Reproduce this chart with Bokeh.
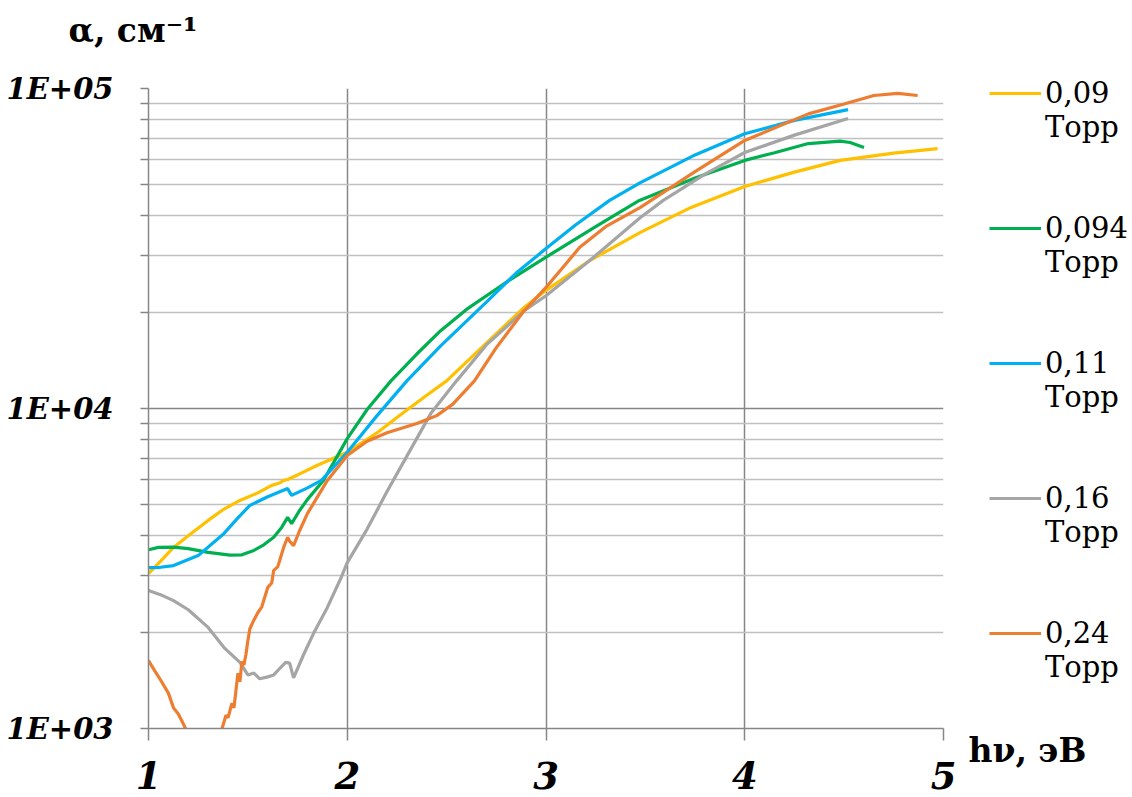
from bokeh.plotting import figure
from bokeh.models import FixedTicker, Legend, LegendItem, Label
from bokeh.embed import file_html
from bokeh.resources import INLINE

# ---------------- data ----------------
series_names = ["\n0,09\nТорр", "\n0,094\nТорр", "\n0,11\nТорр", "\n0,16\nТорр", "\n0,24\nТорр"]
series_colors = ["#FFC000", "#00B050", "#00B0F0", "#A5A5A5", "#ED7D31"]

x_009 = [1.0, 1.06, 1.126, 1.2, 1.3, 1.38, 1.46, 1.55, 1.62, 1.66, 1.68, 1.7, 1.75, 1.85, 2.0,
         2.15, 2.27, 2.4, 2.5, 2.7, 2.89, 3.0, 3.22, 3.475, 3.73, 4.0, 4.25, 4.48, 4.75, 4.97]
y_009 = [3050, 3330, 3680, 4000, 4470, 4850, 5160, 5450, 5750, 5850, 5960, 6000, 6200, 6650, 7300,
         8400, 9580, 11000, 12200, 16000, 20700, 23400, 29000, 35500, 42500, 49400, 54800, 59600, 62800, 64900]

x_0094 = [1.0, 1.05, 1.126, 1.2, 1.3, 1.41, 1.47, 1.53, 1.58, 1.63, 1.67, 1.7, 1.72, 1.76, 1.8, 1.88,
          2.0, 2.1, 2.22, 2.35, 2.47, 2.6, 2.8, 3.0, 3.25, 3.47, 3.75, 4.0, 4.15, 4.32, 4.48, 4.53, 4.6]
y_0094 = [3620, 3680, 3690, 3650, 3550, 3480, 3490, 3600, 3750, 3960, 4250, 4570, 4370, 4800, 5200, 5960,
          8050, 9930, 12200, 14800, 17500, 20400, 24800, 29700, 37000, 44700, 52500, 59600, 63000, 67300, 68500, 67800, 65400]

x_011 = [1.0, 1.06, 1.126, 1.25, 1.38, 1.45, 1.51, 1.6, 1.7, 1.72, 1.8, 1.87, 2.0, 2.15, 2.3, 2.47,
         2.7, 2.85, 3.0, 3.15, 3.32, 3.475, 3.75, 4.0, 4.25, 4.52]
y_011 = [3180, 3190, 3230, 3470, 4070, 4550, 4980, 5300, 5620, 5350, 5650, 5960, 7300, 9500, 12200, 15700,
         21500, 26500, 31600, 37500, 44700, 50800, 62000, 72200, 79500, 85900]

x_016 = [1.0, 1.06, 1.126, 1.2, 1.3, 1.38, 1.46, 1.5, 1.53, 1.56, 1.6, 1.63, 1.66, 1.69, 1.71, 1.73,
         1.78, 1.83, 1.9, 1.97, 2.0, 2.1, 2.2, 2.3, 2.42, 2.55, 2.7, 2.89, 3.0, 3.22, 3.475, 3.59,
         3.8, 4.0, 4.25, 4.52]
y_016 = [2700, 2620, 2510, 2350, 2070, 1790, 1610, 1470, 1490, 1430, 1450, 1470, 1540, 1610, 1600, 1440,
         1700, 1980, 2390, 2970, 3300, 4200, 5500, 7100, 9640, 12200, 15800, 20200, 22500, 29000, 39500, 44700,
         54000, 63100, 71500, 80600]

x_024 = [1.0, 1.03, 1.06, 1.1, 1.126, 1.15, 1.17, 1.2, 1.25, 1.32, 1.35, 1.37, 1.39, 1.4, 1.42, 1.43,
         1.45, 1.46, 1.47, 1.48, 1.49, 1.5, 1.51, 1.53, 1.55, 1.57, 1.6, 1.62, 1.63, 1.65, 1.66, 1.68,
         1.7, 1.71, 1.73, 1.76, 1.8, 1.9, 2.0, 2.1, 2.2, 2.35, 2.45, 2.53, 2.64, 2.75, 2.89, 3.0, 3.17,
         3.3, 3.475, 3.75, 4.0, 4.32, 4.5, 4.65, 4.77, 4.87]
y_024 = [1630, 1520, 1420, 1290, 1160, 1110, 1050, 960, 900, 900, 960, 1000, 1100, 1080, 1200, 1160,
         1490, 1400, 1620, 1580, 1700, 1880, 2050, 2180, 2300, 2400, 2760, 2850, 3120, 3200, 3350, 3680,
         3960, 3850, 3730, 4150, 4700, 5960, 7130, 7900, 8400, 8980, 9500, 10300, 12200, 15500, 20200, 23900, 31900,
         37000, 42500, 55000, 68800, 83300, 89500, 95100, 96500, 95100]

xs = [x_009, x_0094, x_011, x_016, x_024]
ys = [y_009, y_0094, y_011, y_016, y_024]

x_ticks = [1, 2, 3, 4, 5]
y_ticks = [1000, 10000, 100000]
y_minor = [2000, 3000, 4000, 5000, 6000, 7000, 8000, 9000,
           20000, 30000, 40000, 50000, 60000, 70000, 80000, 90000]
y_tick_labels = {1000: "1E+03", 10000: "1E+04", 100000: "1E+05"}
y_title = "α, см⁻¹"
x_title = "hν, эВ"

FONT = "DejaVu Serif"

# ---------------- figure ----------------
p = figure(frame_width=795, frame_height=640, y_axis_type="log",
           x_range=(1, 5), y_range=(1000, 100000), title=None,
           output_backend="svg", toolbar_location=None,
           min_border_left=148, min_border_right=189, min_border_top=88, min_border_bottom=69)
p.outline_line_color = None
p.background_fill_color = "white"
p.border_fill_color = "white"

p.xaxis.ticker = FixedTicker(ticks=x_ticks)
yt = FixedTicker(ticks=y_ticks, minor_ticks=y_minor)
p.yaxis.ticker = yt
p.ygrid.ticker = yt
p.xgrid.ticker = FixedTicker(ticks=x_ticks)
p.yaxis.major_label_overrides = y_tick_labels

for ax in (p.xaxis, p.yaxis):
    ax.axis_line_color = "#868686"
    ax.axis_line_width = 1.5
    ax.major_tick_line_color = "#868686"
    ax.major_tick_line_width = 1.5
    ax.major_tick_in = 0
    ax.major_label_text_font = FONT
    ax.major_label_text_font_style = "bold italic"
    ax.major_label_text_color = "black"

p.xaxis.minor_tick_line_color = None
p.xaxis.major_tick_out = 12
p.xaxis.major_label_text_font_size = "37px"
p.xaxis.major_label_standoff = 21

p.yaxis.minor_tick_line_color = "#868686"
p.yaxis.minor_tick_line_width = 1.5
p.yaxis.minor_tick_in = 0
p.yaxis.minor_tick_out = 8
p.yaxis.major_tick_out = 8
p.yaxis.major_label_text_font_size = "29px"
p.yaxis.major_label_standoff = 27

p.xgrid.grid_line_color = "#868686"
p.xgrid.grid_line_width = 1.5
p.ygrid.grid_line_color = "#868686"
p.ygrid.grid_line_width = 1.5
p.ygrid.minor_grid_line_color = "#c0c0c0"
p.ygrid.minor_grid_line_width = 1.5

renderers = []
for x, y, c in zip(xs, ys, series_colors):
    r = p.line(x, y, line_color=c, line_width=3.2)
    renderers.append(r)

# titles live in the top panel (not clipped by the frame)
p.add_layout(Label(x=-80, y=58, x_units="screen", y_units="screen", text=y_title,
                   text_font=FONT,
                   text_font_style="bold", text_font_size="33px", text_color="black",
                   text_baseline="alphabetic", text_align="left"), "above")
p.add_layout(Label(x=820, y=-701, x_units="screen", y_units="screen", text=x_title,
                   text_font=FONT,
                   text_font_style="bold", text_font_size="33px", text_color="black",
                   text_baseline="alphabetic", text_align="left"), "above")

legend = Legend(items=[LegendItem(label=n, renderers=[r]) for n, r in zip(series_names, renderers)],
                location=(46, 44), orientation="vertical",
                glyph_width=52, glyph_height=20, label_standoff=4,
                label_text_font=FONT, label_text_font_size="29px",
                label_text_line_height=1.45, label_text_color="black",
                spacing=33, padding=0, margin=0,
                border_line_color=None, background_fill_alpha=0)
p.add_layout(legend, "right")

open("out.html", "w").write(file_html(p, INLINE))
